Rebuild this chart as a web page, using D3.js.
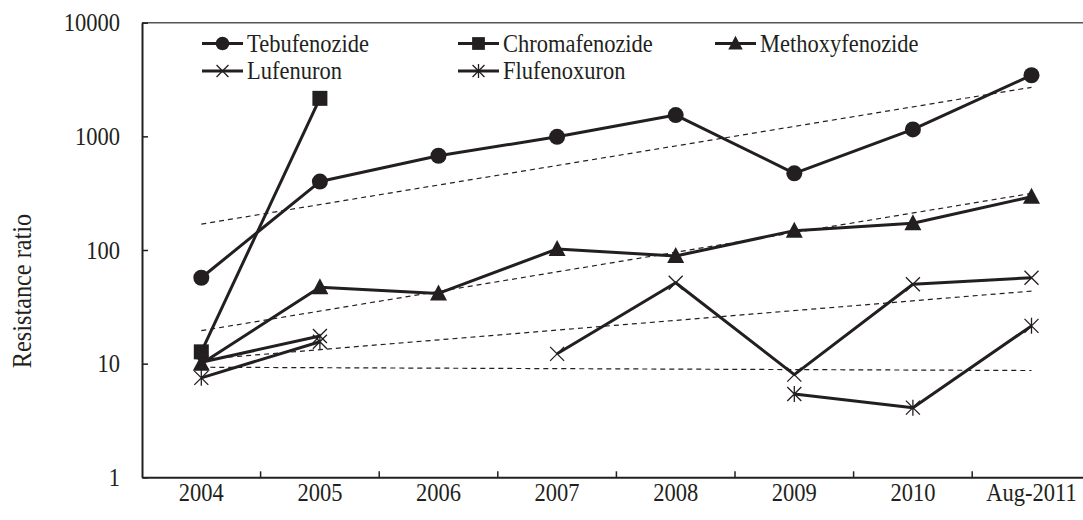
<!DOCTYPE html>
<html>
<head>
<meta charset="utf-8">
<script src="https://cdn.jsdelivr.net/npm/d3@7/dist/d3.min.js"></script>
<style>
  html, body { margin: 0; padding: 0; background: #fff; }
  svg { display: block; }
  text { font-family: "Liberation Serif", "Times New Roman", serif; fill: #231f20; }
</style>
</head>
<body>
<svg id="chart" width="1083" height="520"></svg>
<script>
// Sampling periods on the x axis
const categories = ["2004", "2005", "2006", "2007", "2008", "2009", "2010", "Aug-2011"];

// Resistance ratios per insecticide (null = not measured)
const tebufenozide    = [57, 400, 675, 990, 1540, 473, 1150, 3450];
const chromafenozide  = [12.7, 2160, null, null, null, null, null, null];
const methoxyfenozide = [10, 47, 41.5, 102, 88.5, 148, 172, 294];
const lufenuron       = [10.3, 17.5, null, 12.2, 51.5, 8, 50, 57];
const flufenoxuron    = [7.5, 15.6, null, null, null, 5.4, 4.1, 21.5];

// Trend lines (fitted values at the first and last period)
const trendTebufenozide    = [169, 2700];
const trendMethoxyfenozide = [19.5, 315];
const trendLufenuron       = [10.9, 43.5];
const trendFlufenoxuron    = [9.3, 8.7];

const yTicks = [1, 10, 100, 1000, 10000];
const yTitle = "Resistance ratio";

const ink = "#231f20";
const squeeze = 0.9;           // condensed serif lettering
const svg = d3.select("#chart");

const margin = { left: 142, top: 22.7, bottom: 477.3 };
const bandW = 118.6;
const right = margin.left + bandW * categories.length;

const x = d3.scaleBand().domain(categories).range([margin.left, right]).padding(0);
const cx = d => x(d) + x.bandwidth() / 2;
const y = d3.scaleLog().domain([1, 10000]).range([margin.bottom, margin.top]);

// Top frame line
svg.append("line")
  .attr("x1", margin.left).attr("x2", right)
  .attr("y1", margin.top).attr("y2", margin.top)
  .attr("stroke", "#555").attr("stroke-width", 1.5);

// Y axis with inward ticks
const yPad = 22;
const yAxis = d3.axisLeft(y)
  .tickValues(yTicks)
  .tickFormat(d3.format("d"))
  .tickSizeInner(-6)
  .tickSizeOuter(0)
  .tickPadding(yPad);
const gy = svg.append("g").attr("transform", `translate(${margin.left},0)`).call(yAxis);
gy.select(".domain").attr("stroke", ink).attr("stroke-width", 2);
gy.selectAll(".tick line").attr("stroke", ink).attr("stroke-width", 1.5);
gy.selectAll(".tick text")
  .attr("font-size", 25).attr("fill", ink)
  .attr("font-family", "Liberation Serif")
  .attr("x", -yPad / squeeze)
  .attr("transform", `scale(${squeeze},1)`);

// X axis: labels centred in each band, ticks on band boundaries
const xAxis = d3.axisBottom(x).tickSize(0).tickPadding(6);
const gx = svg.append("g").attr("transform", `translate(0,${margin.bottom})`).call(xAxis);
gx.select(".domain").attr("stroke", ink).attr("stroke-width", 2);
gx.selectAll(".tick text")
  .attr("font-size", 25).attr("fill", ink)
  .attr("font-family", "Liberation Serif")
  .attr("transform", `scale(${squeeze},1)`);
gx.selectAll(".boundary")
  .data(categories.slice(1))
  .enter().append("line")
  .attr("class", "boundary")
  .attr("x1", d => x(d)).attr("x2", d => x(d))
  .attr("y1", 0).attr("y2", -6)
  .attr("stroke", ink).attr("stroke-width", 1.5);

// Y axis title
svg.append("text")
  .attr("transform", `translate(22,291) rotate(-90) scale(${squeeze},1)`)
  .attr("text-anchor", "middle")
  .attr("dominant-baseline", "central")
  .attr("font-size", 27)
  .text(yTitle);

// Dashed trend lines
const trends = [trendTebufenozide, trendMethoxyfenozide, trendLufenuron, trendFlufenoxuron];
const trendLine = d3.line().x(d => d[0]).y(d => y(d[1]));
svg.append("g").selectAll("path")
  .data(trends)
  .enter().append("path")
  .attr("d", t => trendLine([[cx(categories[0]), t[0]], [cx(categories[categories.length - 1]), t[1]]]))
  .attr("fill", "none")
  .attr("stroke", ink)
  .attr("stroke-width", 1.2)
  .attr("stroke-dasharray", "5,4");

// Marker shapes; k scales the glyph size
function drawMarker(g, kind, px, py, k = 1) {
  if (kind === "circle") {
    g.append("circle").attr("cx", px).attr("cy", py).attr("r", 8 * k).attr("fill", ink);
  } else if (kind === "square") {
    const h = 7.5 * k;
    g.append("rect").attr("x", px - h).attr("y", py - h).attr("width", 2 * h).attr("height", 2 * h).attr("fill", ink);
  } else if (kind === "triangle") {
    g.append("path").attr("d", `M${px},${py - 9 * k}L${px + 8.5 * k},${py + 7 * k}L${px - 8.5 * k},${py + 7 * k}Z`).attr("fill", ink);
  } else if (kind === "cross") {
    const s = 7 * k;
    g.append("path").attr("d", `M${px - s},${py - s}L${px + s},${py + s}M${px - s},${py + s}L${px + s},${py - s}`)
      .attr("stroke", ink).attr("stroke-width", 1.3).attr("fill", "none");
  } else if (kind === "star") {
    const s = 7 * k;
    g.append("path").attr("d", `M${px - s},${py - s}L${px + s},${py + s}M${px - s},${py + s}L${px + s},${py - s}M${px},${py - s - 1}L${px},${py + s + 1}`)
      .attr("stroke", ink).attr("stroke-width", 1.3).attr("fill", "none");
  }
}

const series = [
  { name: "Tebufenozide", values: tebufenozide, marker: "circle" },
  { name: "Chromafenozide", values: chromafenozide, marker: "square" },
  { name: "Methoxyfenozide", values: methoxyfenozide, marker: "triangle" },
  { name: "Lufenuron", values: lufenuron, marker: "cross" },
  { name: "Flufenoxuron", values: flufenoxuron, marker: "star" }
];

const line = d3.line()
  .defined(d => d.v != null)
  .x(d => cx(d.c))
  .y(d => y(d.v));

const gSeries = svg.append("g");
series.forEach(s => {
  const pts = categories.map((c, i) => ({ c, v: s.values[i] }));
  gSeries.append("path")
    .attr("d", line(pts))
    .attr("fill", "none")
    .attr("stroke", ink)
    .attr("stroke-width", 3)
    .attr("stroke-linejoin", "round");
});
series.forEach(s => {
  const g = gSeries.append("g");
  categories.forEach((c, i) => {
    if (s.values[i] != null) drawMarker(g, s.marker, cx(c), y(s.values[i]));
  });
});

// Legend: two rows, three columns
const legendCols = [202, 458, 715];
const legendRows = [43.5, 71];
const gl = svg.append("g");
series.forEach((s, i) => {
  const lx = legendCols[i % 3];
  const ly = legendRows[Math.floor(i / 3)];
  gl.append("line")
    .attr("x1", lx).attr("x2", lx + 41)
    .attr("y1", ly).attr("y2", ly)
    .attr("stroke", ink).attr("stroke-width", 3);
  drawMarker(gl, s.marker, lx + 20.5, ly, 0.85);
  gl.append("text")
    .attr("transform", `translate(${lx + 45},${ly}) scale(${squeeze},1)`)
    .attr("dominant-baseline", "central")
    .attr("font-size", 25)
    .text(s.name);
});
</script>
</body>
</html>
